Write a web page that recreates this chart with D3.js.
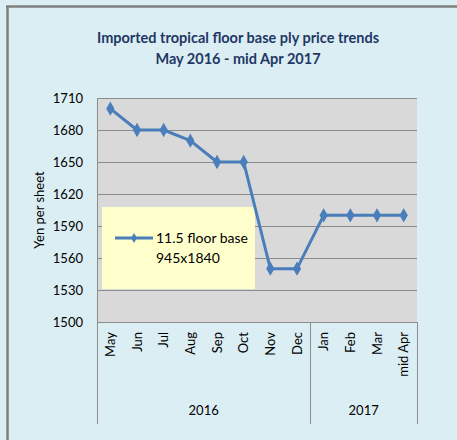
<!DOCTYPE html>
<html>
<head>
  <script src="https://d3js.org/d3.v7.min.js"></script>
  <style>
    body { margin: 0; background: #fff; }
    text { font-family: Lato, "Open Sans", sans-serif; }
  </style>
</head>
<body>
<div id="chart"></div>
<script>
// data
var months = ["May", "Jun", "Jul", "Aug", "Sep", "Oct", "Nov", "Dec", "Jan", "Feb", "Mar", "mid Apr"];
var years = ["2016", "2016", "2016", "2016", "2016", "2016", "2016", "2016", "2017", "2017", "2017", "2017"];
var prices = [1700, 1680, 1680, 1670, 1650, 1650, 1550, 1550, 1600, 1600, 1600, 1600];
var yTicks = [1500, 1530, 1560, 1590, 1620, 1650, 1680, 1710];
var seriesName = ["11.5 floor base", "945x1840"];
var titleLines = ["Imported tropical floor base ply price trends", "May 2016 - mid Apr 2017"];

var W = 457, H = 440;
var plot = { left: 97, right: 417, top: 98, bottom: 322 };

var svg = d3.select("#chart").append("svg")
  .attr("width", W)
  .attr("height", H);

// chart area background + frame
svg.append("rect")
  .attr("x", 0).attr("y", 0).attr("width", W).attr("height", H)
  .attr("fill", "#dbeef4");
svg.append("line")
  .attr("x1", 7.5).attr("x2", 7.5).attr("y1", 6).attr("y2", H)
  .attr("stroke", "#808080").attr("stroke-width", 2.5);
svg.append("line")
  .attr("x1", 6).attr("x2", W).attr("y1", 6.5).attr("y2", 6.5)
  .attr("stroke", "#808080").attr("stroke-width", 2.5);

// title
svg.selectAll(".title")
  .data(titleLines)
  .enter().append("text")
  .attr("class", "title")
  .attr("x", 238)
  .attr("y", function(d, i) { return 43 + i * 21; })
  .attr("text-anchor", "middle")
  .attr("fill", "#1f3864")
  .style("font-size", "14.5px")
  .style("font-weight", "bold")
  .text(function(d) { return d; });

var x = d3.scaleBand()
  .domain(months)
  .range([plot.left, plot.right]);

var y = d3.scaleLinear()
  .domain([1500, 1710])
  .range([plot.bottom, plot.top]);

// plot area
svg.append("rect")
  .attr("x", plot.left).attr("y", plot.top)
  .attr("width", plot.right - plot.left).attr("height", plot.bottom - plot.top)
  .attr("fill", "#d9d9d9");

// gridlines
svg.selectAll(".grid")
  .data(yTicks)
  .enter().append("line")
  .attr("x1", plot.left).attr("x2", plot.right)
  .attr("y1", function(d) { return Math.round(y(d)) + 0.5; })
  .attr("y2", function(d) { return Math.round(y(d)) + 0.5; })
  .attr("stroke", "#8c8c8c")
  .attr("stroke-width", 1);

// y axis
var yAxis = d3.axisLeft(y).tickValues(yTicks).tickFormat(d3.format("d")).tickSize(0).tickPadding(14);
var yg = svg.append("g")
  .attr("transform", "translate(" + plot.left + ",0)")
  .call(yAxis);
yg.select(".domain").attr("stroke", "#8c8c8c");
yg.selectAll("text")
  .style("font-size", "13px")
  .style("font-family", "Lato, sans-serif")
  .attr("fill", "#000");

svg.append("text")
  .attr("transform", "translate(44,210) rotate(-90)")
  .attr("text-anchor", "middle")
  .style("font-size", "13px")
  .attr("fill", "#000")
  .text("Yen per sheet");

// x axis: month labels rotated
svg.selectAll(".month")
  .data(months)
  .enter().append("text")
  .attr("class", "month")
  .attr("transform", function(d) {
    return "translate(" + (x(d) + x.bandwidth() / 2 + 4.5) + "," + (plot.bottom + 10) + ") rotate(-90)";
  })
  .attr("text-anchor", "end")
  .style("font-size", "13px")
  .attr("fill", "#000")
  .text(function(d) { return d; });

// year group dividers and labels
var groups = d3.groups(months.map(function(m, i) { return { m: m, yr: years[i] }; }), function(d) { return d.yr; });
var bounds = [plot.left];
groups.forEach(function(g) {
  var last = g[1][g[1].length - 1].m;
  bounds.push(x(last) + x.bandwidth());
});
svg.selectAll(".divider")
  .data(bounds)
  .enter().append("line")
  .attr("x1", function(d) { return Math.round(d) + 0.5; })
  .attr("x2", function(d) { return Math.round(d) + 0.5; })
  .attr("y1", plot.bottom)
  .attr("y2", 424)
  .attr("stroke", "#8c8c8c");

svg.selectAll(".year")
  .data(groups)
  .enter().append("text")
  .attr("x", function(g, i) { return (bounds[i] + bounds[i + 1]) / 2; })
  .attr("y", 415)
  .attr("text-anchor", "middle")
  .style("font-size", "13px")
  .attr("fill", "#000")
  .text(function(g) { return g[0]; });

// series line
var lineColor = "#4a7ebb";
var line = d3.line()
  .x(function(d, i) { return x(months[i]) + x.bandwidth() / 2; })
  .y(function(d) { return y(d); });

// legend box (drawn under the line)
var lg = svg.append("g");
lg.append("rect")
  .attr("x", 102).attr("y", 207).attr("width", 153).attr("height", 82)
  .attr("fill", "#ffffcc");

svg.append("path")
  .datum(prices)
  .attr("fill", "none")
  .attr("stroke", lineColor)
  .attr("stroke-width", 3)
  .attr("stroke-linejoin", "round")
  .attr("d", line);

var diamond = d3.symbol().type(d3.symbolDiamond).size(60);
svg.selectAll(".pt")
  .data(prices)
  .enter().append("path")
  .attr("transform", function(d, i) {
    return "translate(" + (x(months[i]) + x.bandwidth() / 2) + "," + y(d) + ")";
  })
  .attr("d", diamond)
  .attr("fill", lineColor);

lg.append("line")
  .attr("x1", 115).attr("x2", 153).attr("y1", 238).attr("y2", 238)
  .attr("stroke", lineColor).attr("stroke-width", 3);
lg.append("path")
  .attr("transform", "translate(134,238)")
  .attr("d", d3.symbol().type(d3.symbolDiamond).size(30))
  .attr("fill", lineColor);
lg.selectAll(".lt")
  .data(seriesName)
  .enter().append("text")
  .attr("x", 156)
  .attr("y", function(d, i) { return 243 + i * 20; })
  .style("font-size", "14px")
  .attr("fill", "#000")
  .text(function(d) { return d; });
</script>
</body>
</html>
